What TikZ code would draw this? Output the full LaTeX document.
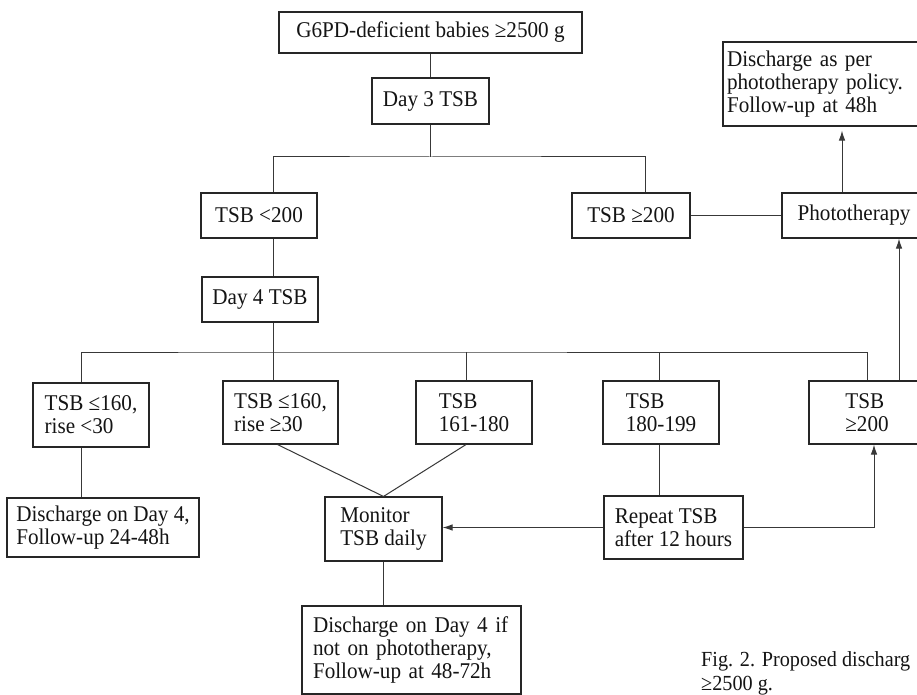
\documentclass[tikz,border=0pt]{standalone}
\usepackage{fontspec}
\setmainfont{Liberation Serif}[FakeStretch=0.94]
\usetikzlibrary{arrows.meta}
\newcommand{\fs}{\fontsize{22.5}{22.8}\selectfont}
\tikzset{
  box/.style={draw=black!85, line width=1.1pt, inner sep=0pt, font=\fs, text=black!92, align=left},
  ln/.style={draw=black!78, line width=1pt},
  arr/.style={ln, -{Latex[length=10pt,width=6.5pt]}},
  captxt/.style={anchor=base west, inner sep=0pt, font=\fontsize{21.5}{22}\selectfont, text=black!92},
}
\begin{document}
\begin{tikzpicture}[x=1pt,y=-1pt]
\fill[white] (0,0) rectangle (917,695);
\useasboundingbox (0,0) rectangle (917,695);

% nodes
\node[box, minimum width=303pt, minimum height=41pt] (top) at (430.5,32.5) {G6PD-deficient babies ≥2500 g};
\node[box, minimum width=117pt, minimum height=46pt] (day3) at (430.5,101) {Day 3 TSB};
\node[box, minimum width=116pt, minimum height=45pt] (lt200) at (259,215.5) {TSB <200};
\node[box, minimum width=118pt, minimum height=45pt] (ge200) at (631,215.5) {TSB ≥200};
\node[box, minimum width=144pt, minimum height=45pt] (photo) at (854,215.5) {Phototherapy};
\node[box, minimum height=84pt, text width=194pt, inner xsep=4pt] (dpolicy) at (824,84) {Discharge as per\\phototherapy policy.\\Follow-up at 48h};
\node[box, minimum width=116pt, minimum height=45pt] (day4) at (260,299.5) {Day 4 TSB};

\node[box, minimum width=116pt, minimum height=64pt] (b1) at (91,415) {TSB ≤160,\\rise <30};
\node[box, minimum width=115pt, minimum height=63pt] (b2) at (280.5,412.5) {TSB ≤160,\\rise ≥30};
\node[box, minimum width=116pt, minimum height=63pt] (b3) at (474,412.5) {TSB\\161-180};
\node[box, minimum width=116pt, minimum height=63pt] (b4) at (661,412.5) {TSB\\180-199};
\node[box, minimum width=116pt, minimum height=63pt] (b5) at (867,412.5) {TSB\\≥200};

\node[box, minimum width=192pt, minimum height=59pt] (disc4) at (103,527.5) {Discharge on Day 4,\\Follow-up 24-48h};
\node[box, minimum width=117pt, minimum height=64pt] (mon) at (383.5,529) {Monitor\\TSB daily};
\node[box, minimum width=139pt, minimum height=63pt] (rep) at (673.5,527.5) {Repeat TSB\\after 12 hours};
\node[box, minimum height=88pt, text width=197pt, inner xsep=11pt] (dfinal) at (411.5,650) {Discharge on Day 4 if\\not on phototherapy,\\Follow-up at 48-72h};

\node[captxt] (cap1) at (701,666) {Fig. 2. Proposed discharg};
\node[captxt] (cap2) at (701,690) {≥2500 g.};

% helper coordinates (x positions of trunks, junctions)
\coordinate (tk) at (273,0);
\coordinate (gx) at (645,0);
\coordinate (px) at (842,0);
\coordinate (bx) at (899,0);
\coordinate (ax) at (874,0);
\coordinate (x1) at (81,0);
\coordinate (x3) at (466,0);
\coordinate (x4) at (659,0);
\coordinate (x5) at (867,0);
\coordinate (j1) at (430.5,157);
\coordinate (j2) at (273,352);

% connectors
\draw[ln] (top) -- (day3);
\draw[ln] (day3) -- (j1);
\draw[ln] (lt200.north -| tk) |- (j1) -| (ge200.north -| gx);
\draw[ln] (ge200) -- (photo);
\draw[arr, shorten >=4pt] (photo.north -| px) -- (dpolicy.south -| px);
\draw[ln] (lt200.south -| tk) -- (day4.north -| tk);
\draw[ln] (day4.south -| tk) -- (j2);
\draw[ln] (b1.north -| x1) |- (j2) -| (b5.north -| x5);
\draw[ln] (j2) -- (b2.north -| tk);
\draw[ln] (b3.north -| x3) -- (x3 |- j2);
\draw[ln] (b4.north -| x4) -- (x4 |- j2);
\draw[arr] (b5.north -| bx) -- (photo.south -| bx);

\draw[ln] (b1.south -| x1) -- (disc4.north -| x1);
\draw[ln] ([xshift=-3pt]b2.south) -- (mon.north);
\draw[ln] (b3.south -| x3) -- (mon.north);
\draw[ln] (b4.south -| x4) -- (rep.north -| x4);
\draw[arr] (rep.west) -- (mon.east |- rep.west);
\draw[arr] (rep.east) -| (b5.south -| ax);
\draw[ln] (mon.south) -- (dfinal.north -| mon.south);
\end{tikzpicture}
\end{document}
